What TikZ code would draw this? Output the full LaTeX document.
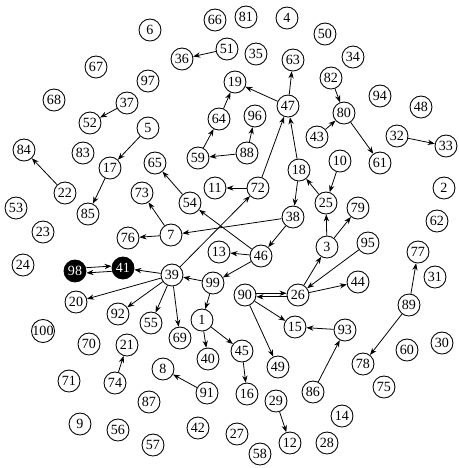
\documentclass[tikz,border=0pt]{standalone}
\usepackage{fontspec}
\setmainfont{Liberation Serif}
\usetikzlibrary{arrows.meta}

\tikzset{
  vertex/.style={circle,draw,line width=0.5pt,minimum size=0.44cm,inner sep=0pt,
    font=\fontsize{8}{9}\selectfont},
  marked/.style={vertex,fill=black,text=white},
  arc/.style={-{Stealth[length=4pt,width=3pt]},line width=0.45pt},
}

\begin{document}
\begin{tikzpicture}[x=0.02cm,y=-0.02cm]
  \useasboundingbox (0,0) rectangle (458,468);

  % plain vertices: label/x/y
  \foreach \v/\px/\py in {
      1/202/320, 2/444/188, 3/327/247, 4/287/18, 5/148/128, 6/150/30,
      7/171/235, 8/163/369, 9/80/424, 10/340/161, 11/215/188, 12/290/443,
      13/219/252, 14/342/416, 15/295/327, 16/247/394, 17/110/168, 18/299/170,
      19/235/82, 20/76/302, 21/127/345, 22/65/193, 23/43/232, 24/23/265,
      25/326/203, 26/298/295, 27/237/434, 28/327/443, 29/276/401, 30/442/343,
      31/435/277, 32/397/136, 33/446/146, 34/353/57, 35/256/54, 36/182/59,
      37/127/103, 38/293/217, 39/172/275, 40/208/359, 42/198/428,
      43/317/137, 44/358/282, 45/242/351, 46/261/256, 47/288/106, 48/421/107,
      49/278/367, 50/325/34, 51/227/49, 52/90/123, 53/16/208, 54/190/203,
      55/151/323, 56/118/430, 57/153/445, 58/260/454, 59/198/158, 60/407/350,
      61/380/163, 62/437/221, 63/293/60, 64/219/119, 65/155/163, 66/215/20,
      67/96/67, 68/54/100, 69/180/338, 70/89/344, 71/69/381, 72/258/188,
      73/142/193, 74/115/383, 75/384/387, 76/128/238, 77/418/252, 78/363/364,
      79/358/208, 80/344/113, 81/246/17, 82/331/78, 83/83/153, 84/24/150,
      85/88/214, 86/313/392, 87/149/402, 88/247/153, 89/409/305, 90/245/295,
      91/207/393, 92/118/314, 93/345/330, 94/380/96, 95/368/243, 96/255/116,
      97/148/81, 99/213/283, 100/43/331}
    \node[vertex] (n\v) at (\px,\py) {\v};

  % filled vertices
  \node[marked] (n41) at (123,268) {41};
  \node[marked] (n98) at (75,271) {98};

  % directed arcs: tail/head
  \foreach \a/\b in {
      51/36, 37/52, 5/17, 17/85, 22/84, 64/19, 47/19, 47/63, 59/64, 88/59,
      88/96, 82/80, 43/80, 80/61, 32/33, 72/47, 18/47, 18/38, 25/18, 10/25,
      3/25, 3/79, 72/11, 39/72, 46/54, 54/65, 7/73, 7/76, 38/7, 38/46,
      46/13, 46/99, 99/39, 39/41, 39/20, 39/92, 39/55, 39/69, 99/1, 1/40,
      1/45, 45/16, 90/15, 90/49, 26/3, 95/26, 26/44, 93/15, 86/93, 89/77,
      89/78, 74/21, 91/8, 29/12}
    \draw[arc] (n\a) -- (n\b);

  % arcs in both directions
  \draw[arc,transform canvas={yshift=1.5pt}] (n98) -- (n41);
  \draw[arc,transform canvas={yshift=-1.5pt}] (n41) -- (n98);
  \draw[arc,transform canvas={yshift=1pt}] (n90) -- (n26);
  \draw[arc,transform canvas={yshift=-1pt}] (n26) -- (n90);

\end{tikzpicture}
\end{document}
